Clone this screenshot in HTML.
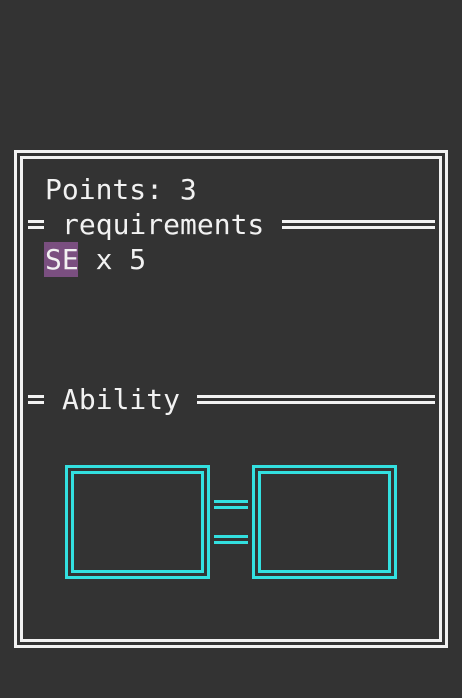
<!DOCTYPE html>
<html><head><meta charset="utf-8"><style>
html,body{margin:0;padding:0;background:#333333;}
svg{display:block}
text{font-family:"DejaVu Sans Mono","Liberation Mono",monospace;font-size:28px;fill:#f2f2f2}
</style></head><body>
<svg width="462" height="698" viewBox="0 0 462 698" xmlns="http://www.w3.org/2000/svg">
<rect width="462" height="698" fill="#333333"/>
<g fill="none" stroke="#f2f2f2" stroke-width="3">
<rect x="15.5" y="151.5" width="431" height="495"/>
<rect x="21.5" y="157.5" width="419" height="483"/>
</g>
<g fill="#f2f2f2">
<rect x="282" y="220" width="153" height="3"/>
<rect x="282" y="226" width="153" height="3"/>
<rect x="197" y="395" width="238" height="3"/>
<rect x="197" y="401" width="238" height="3"/>
<rect x="28" y="220" width="16" height="3"/>
<rect x="28" y="226" width="16" height="3"/>
<rect x="28" y="395" width="16" height="3"/>
<rect x="28" y="401" width="16" height="3"/>
</g>
<rect x="44" y="242" width="34" height="35" fill="#7a4f80"/>
<text x="45" y="199">Points: 3</text>
<text x="62" y="234">requirements</text>
<text x="45" y="269">SE x 5</text>
<text x="62" y="409">Ability</text>
<g fill="none" stroke="#33e0e0" stroke-width="3">
<rect x="66.5" y="466.5" width="142" height="111"/>
<rect x="72.5" y="472.5" width="130" height="99"/>
<rect x="253.5" y="466.5" width="142" height="111"/>
<rect x="259.5" y="472.5" width="130" height="99"/>
</g>
<g fill="#33e0e0">
<rect x="214" y="500" width="34" height="3"/>
<rect x="214" y="506" width="34" height="3"/>
<rect x="214" y="535" width="34" height="3"/>
<rect x="214" y="541" width="34" height="3"/>
</g>
</svg>
</body></html>
